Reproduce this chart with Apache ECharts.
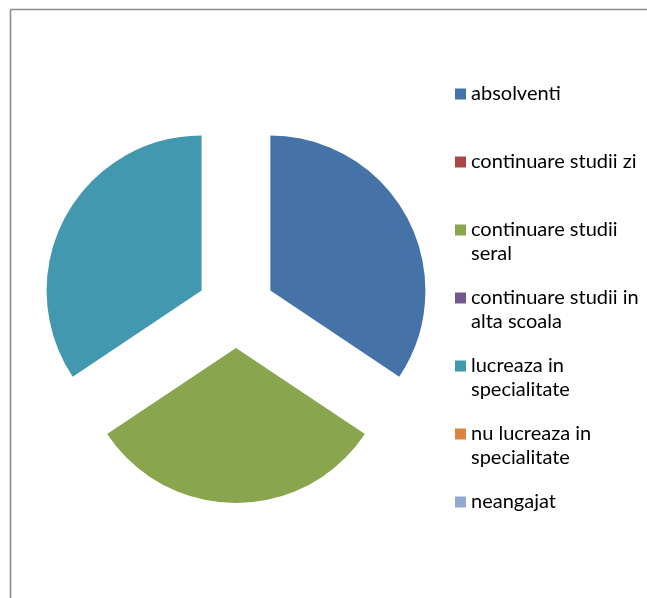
<!DOCTYPE html>
<html>
<head>
<meta charset="utf-8">
<script src="https://cdn.jsdelivr.net/npm/echarts@6/dist/echarts.min.js"></script>
<style>
html,body{margin:0;padding:0;background:#fff;overflow:hidden;}
#chart{width:647px;height:598px;}
</style>
</head>
<body>
<div id="chart"></div>
<script>
const categories = [
  'absolventi',
  'continuare studii zi',
  'continuare studii seral',
  'continuare studii in alta scoala',
  'lucreaza in specialitate',
  'nu lucreaza in specialitate',
  'neangajat'
];
const values = [11, 0, 10, 0, 11, 0, 0];
const colors = ['#4572A7', '#AA4643', '#89A54E', '#71588F', '#4198AF', '#DB843D', '#93A9CF'];

const LEGEND_FONT = '20px Lato';
const LEGEND_MAX_W = 172;
const measureCtx = document.createElement('canvas').getContext('2d');
measureCtx.font = LEGEND_FONT;

// Wrap a legend label into lines (greedy word wrap), then pad so that the
// first line sits on the legend icon's centre, like the original legend.
function legendLabel(name) {
  const words = name.split(' ');
  const lines = [];
  let cur = '';
  words.forEach(w => {
    const test = cur ? cur + ' ' + w : w;
    if (cur && measureCtx.measureText(test).width > LEGEND_MAX_W) {
      lines.push(cur);
      cur = w;
    } else {
      cur = test;
    }
  });
  if (cur) lines.push(cur);
  if (lines.length === 1) return ' \n' + lines[0] + '\n ';
  return ' \n' + lines[0] + '\n' + lines[1];
}

const chart = echarts.init(document.getElementById('chart'), null, {renderer: 'canvas'});
chart.setOption({
  animation: false,
  backgroundColor: '#ffffff',
  color: colors,
  graphic: [{
    type: 'line',
    silent: true,
    shape: {x1: 10.5, y1: 9.5, x2: 660, y2: 9.5},
    style: {stroke: '#8a8a8a', lineWidth: 1.6}
  }, {
    type: 'line',
    silent: true,
    shape: {x1: 10.5, y1: 9.5, x2: 10.5, y2: 610},
    style: {stroke: '#8a8a8a', lineWidth: 1.6}
  }],
  legend: {
    orient: 'vertical',
    left: 455,
    top: 58,
    padding: 0,
    itemGap: -4,
    itemWidth: 11,
    itemHeight: 11,
    icon: 'rect',
    selectedMode: false,
    data: categories,
    formatter: legendLabel,
    textStyle: {
      fontFamily: 'Lato',
      fontSize: 20,
      color: '#000000',
      lineHeight: 24
    }
  },
  series: [{
    type: 'pie',
    center: [236, 309],
    radius: [0, 155],
    startAngle: 90,
    clockwise: true,
    selectedMode: 'multiple',
    selectedOffset: 39,
    silent: true,
    label: {show: false},
    labelLine: {show: false},
    itemStyle: {borderWidth: 0},
    emphasis: {disabled: true},
    select: {itemStyle: {borderWidth: 0}},
    data: categories.map((n, i) => ({name: n, value: values[i], selected: true}))
  }]
});
</script>
</body>
</html>
